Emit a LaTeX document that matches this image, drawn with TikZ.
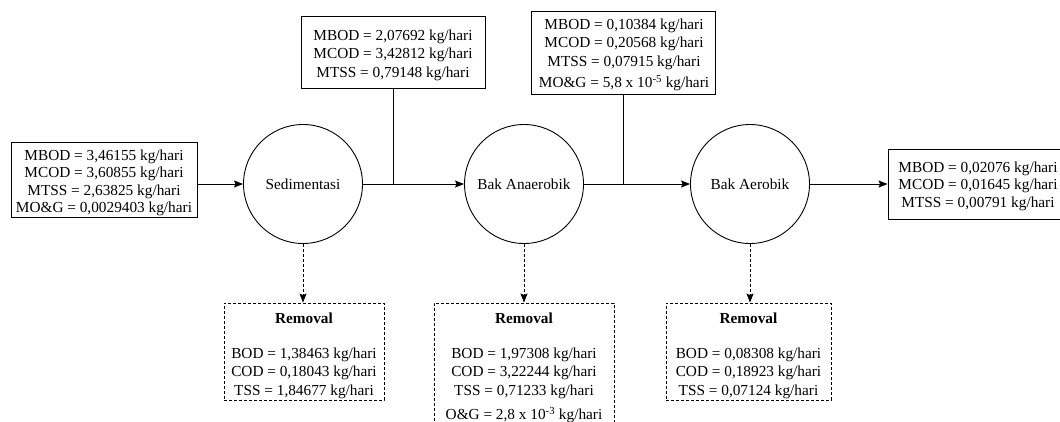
\documentclass[tikz,border=0pt]{standalone}
\usepackage{fontspec}
\setmainfont{Liberation Serif}
\usetikzlibrary{arrows.meta}
\begin{document}
\begin{tikzpicture}[x=1pt,y=-1pt,
  every node/.style={font=\fontsize{15.3}{18.5}\selectfont, inner sep=0pt, align=center},
  tight/.style={font=\fontsize{15.3}{17.4}\selectfont},
  databox/.style={draw, line width=0.9pt, rectangle},
  rembox/.style={draw, line width=0.9pt, dash pattern=on 3pt off 2pt},
  unit/.style={draw, circle, line width=0.9pt, minimum size=119pt},
  flow/.style={line width=0.9pt, -{Stealth[length=9pt,width=7pt,inset=1.5pt]}},
  feed/.style={line width=0.9pt},
  rflow/.style={flow, dash pattern=on 3pt off 2pt}]
\useasboundingbox (0,0) rectangle (1060,421);

% treatment units
\node[unit] (sed) at (303,184) {Sedimentasi};
\node[unit] (ana) at (524,184) {Bak Anaerobik};
\node[unit] (aer) at (750,184) {Bak Aerobik};

% influent and effluent loads
\node[databox, minimum width=186pt, minimum height=75pt] (in) at (104,179.5) {};
\node[tight] (intxt) at (104,183)
  {MBOD = 3,46155 kg/hari\\MCOD = 3,60855 kg/hari\\MTSS = 2,63825 kg/hari\\MO\&G = 0,0029403 kg/hari};
\node[databox, minimum width=180pt, minimum height=70pt] (out) at (978,184) {};
\node[tight] (outtxt) at (978,186)
  {MBOD = 0,02076 kg/hari\\MCOD = 0,01645 kg/hari\\MTSS = 0,00791 kg/hari};

% intermediate loads
\node[databox, minimum width=184pt, minimum height=72pt] (mid1) at (393,52) {};
\node (mid1txt) at (393,55)
  {MBOD = 2,07692 kg/hari\\MCOD = 3,42812 kg/hari\\MTSS = 0,79148 kg/hari};
\node[databox, minimum width=184pt, minimum height=83pt] (mid2) at (623,52.5) {};
\node (mid2txt) at (624,55)
  {MBOD = 0,10384 kg/hari\\MCOD = 0,20568 kg/hari\\MTSS = 0,07915 kg/hari\\[3pt]MO\&G = 5,8 x 10\textsuperscript{-5} kg/hari};

% removal per unit
\node[rembox, minimum width=160pt, minimum height=97pt] (rem1) at (304,351.5) {};
\node (rem1txt) at (304,356)
  {\textbf{Removal}\\[16pt]BOD = 1,38463 kg/hari\\COD = 0,18043 kg/hari\\TSS = 1,84677 kg/hari};
\node[rembox, minimum width=180pt, minimum height=130pt] (rem2) at (524,368) {};
\node (rem2txt) at (524,368)
  {\textbf{Removal}\\[16pt]BOD = 1,97308 kg/hari\\COD = 3,22244 kg/hari\\TSS = 0,71233 kg/hari\\[6pt]O\&G = 2,8 x 10\textsuperscript{-3} kg/hari};
\node[rembox, minimum width=165pt, minimum height=97pt] (rem3) at (748.5,351.5) {};
\node (rem3txt) at (748.5,356)
  {\textbf{Removal}\\[16pt]BOD = 0,08308 kg/hari\\COD = 0,18923 kg/hari\\TSS = 0,07124 kg/hari};

% main flow line
\draw[flow] (in.east |- sed) -- (sed);
\draw[flow] (sed) -- (ana);
\draw[flow] (ana) -- (aer);
\draw[flow] (aer) -- (aer -| out.west);

% taps to intermediate loads
\draw[feed] (mid1.south) -- (mid1.south |- sed);
\draw[feed] (mid2.south) -- (mid2.south |- ana);

% removal arrows
\draw[rflow] (sed.south) -- (sed.south |- rem1.north);
\draw[rflow] (ana.south) -- (ana.south |- rem2.north);
\draw[rflow] (aer.south) -- (aer.south |- rem3.north);
\end{tikzpicture}
\end{document}
